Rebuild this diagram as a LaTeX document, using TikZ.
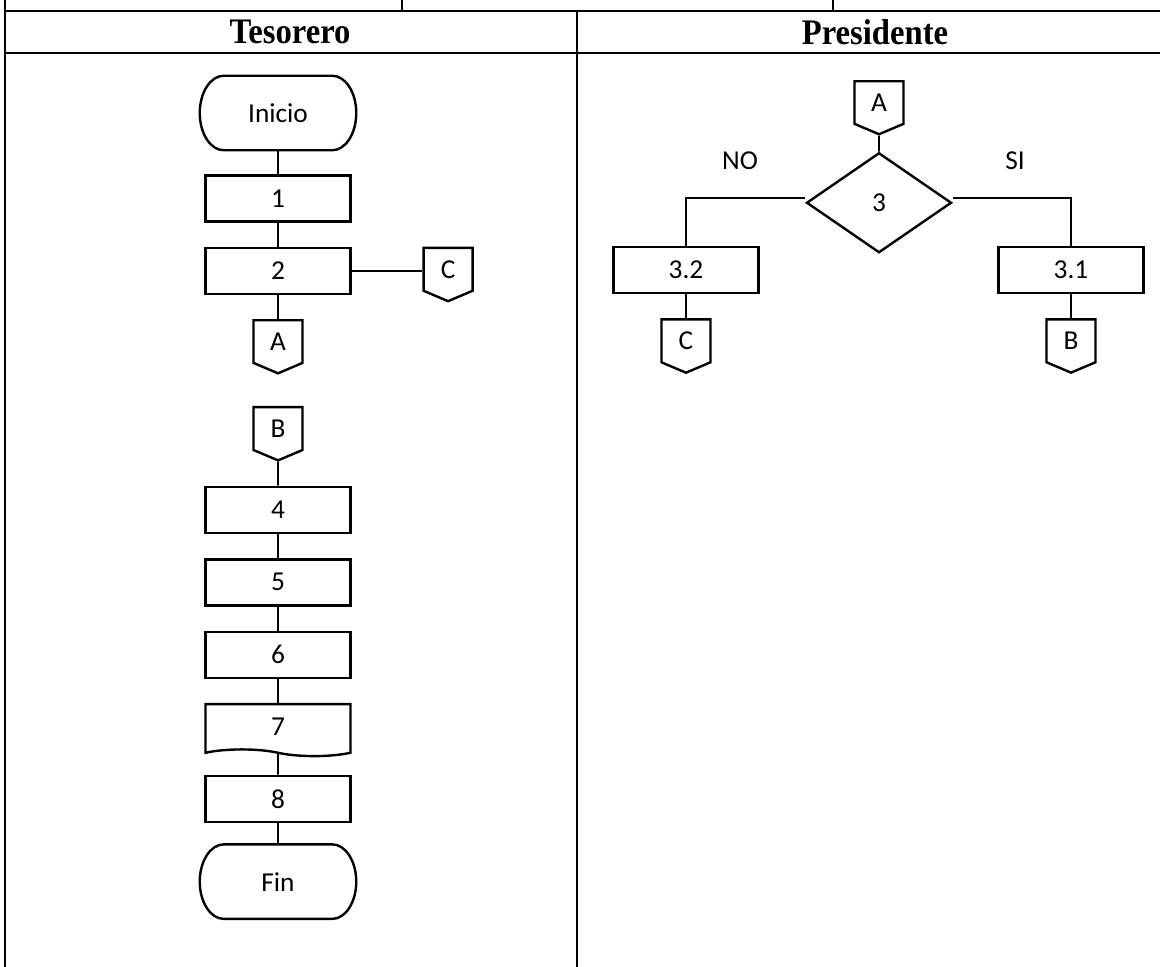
\documentclass[tikz,border=0pt]{standalone}
\usepackage{fontspec}
\setmainfont{Carlito}
\newfontfamily\headfont{Liberation Serif}
\usepackage{graphicx}
\usetikzlibrary{shapes.geometric, shapes.symbols, positioning}

\begin{document}
\begin{tikzpicture}[x=0.75pt, y=-0.75pt, node distance=18pt,
    font=\fontsize{20.5}{23}\selectfont,
    proc/.style={rectangle, draw, line width=1.8pt, minimum width=108.75pt, minimum height=34.5pt, inner sep=0pt},
    term/.style={rectangle, minimum width=117pt, minimum height=55.5pt, inner sep=0pt,
      append after command={\pgfextra{\let\flowtermnode\tikzlastnode
        \draw[line width=1.8pt] ([xshift=18pt]\flowtermnode.north west) -- ([xshift=-18pt]\flowtermnode.north east)
          .. controls +(9.94pt,0) and +(0,15.33pt) .. (\flowtermnode.east)
          .. controls +(0,-15.33pt) and +(9.94pt,0) .. ([xshift=-18pt]\flowtermnode.south east)
          -- ([xshift=18pt]\flowtermnode.south west)
          .. controls +(-9.94pt,0) and +(0,-15.33pt) .. (\flowtermnode.west)
          .. controls +(0,15.33pt) and +(-9.94pt,0) .. ([xshift=18pt]\flowtermnode.north west) -- cycle;}}},
    offpage/.style={signal, signal to=south, signal pointer angle=134, draw, line width=1.8pt, minimum width=36.75pt, minimum height=34.5pt, inner sep=0pt},
    docu/.style={tape, tape bend top=none, tape bend bottom=out and in, draw, line width=1.8pt, minimum width=108.75pt, minimum height=39pt},
    decide/.style={diamond, draw, line width=1.8pt, minimum width=108.75pt, minimum height=75pt, inner sep=0pt},
    link/.style={line width=1.3pt},
    grid/.style={line width=2.2pt},
    head/.style={font=\headfont\bfseries\fontsize{24.5}{27}\selectfont}]
  \useasboundingbox (0,0) rectangle (1160,967);

  % table
  \draw[line width=1.4pt] (402,0) -- (402,11) (833,0) -- (833,11);
  \draw[grid] (5,0) -- (5,967);
  \draw[grid] (577,11) -- (577,967);
  \draw[grid] (5,11) -- (1160,11);
  \draw[grid] (5,53) -- (1160,53);
  \node[head] (tes) at (290,32) {\scalebox{1}[1.1]{Tesorero}};
  \node[head] (pres) at (875,32) {\scalebox{1}[1.1]{Presidente}};

  % Tesorero
  \node[term] (ini) at (278,113) {Inicio};
  \node[proc, below=of ini] (p1) {1};
  \node[proc, below=of p1] (p2) {2};
  \node[offpage, below=of p2] (ca1) {A};
  \node[offpage, right=53pt of p2.north east, anchor=north west] (cc1) {C};
  \node[offpage, below=23.5pt of ca1] (cb1) {B};
  \node[proc, below=of cb1] (p4) {4};
  \node[proc, below=of p4] (p5) {5};
  \node[proc, below=of p5] (p6) {6};
  \node[docu, below=of p6] (p7) {7};
  \node[proc, below=of p7] (p8) {8};
  \node[term, below=16pt of p8] (fin) {Fin};

  \draw[link] (ini) -- (p1);
  \draw[link] (p1) -- (p2);
  \draw[link] (p2) -- (ca1);
  \draw[link] (p2.east) -- (p2.east -| cc1.west);
  \draw[link] (cb1) -- (p4);
  \draw[link] (p4) -- (p5);
  \draw[link] (p5) -- (p6);
  \draw[link] (p6) -- (p7);
  \draw[link] (p7) -- (p8);
  \draw[link] (p8) -- (fin);

  % Presidente
  \node[offpage, anchor=north] (ca2) at (879,80) {A};
  \node[decide, below=12pt of ca2] (d3) {3};
  \node[proc] (p32) at (686,270) {3.2};
  \node[proc] (p31) at (1071,270) {3.1};
  \node[offpage, below=of p32] (cc2) {C};
  \node[offpage, below=of p31] (cb2) {B};
  \node (no) at (740,161) {NO};
  \node (si) at (1015,161) {SI};

  \draw[link] (ca2) -- (d3);
  \draw[link] ([yshift=3.75pt]d3.west) -| (p32.north);
  \draw[link] ([yshift=3.75pt]d3.east) -| (p31.north);
  \draw[link] (p32) -- (cc2);
  \draw[link] (p31) -- (cb2);
\end{tikzpicture}
\end{document}
